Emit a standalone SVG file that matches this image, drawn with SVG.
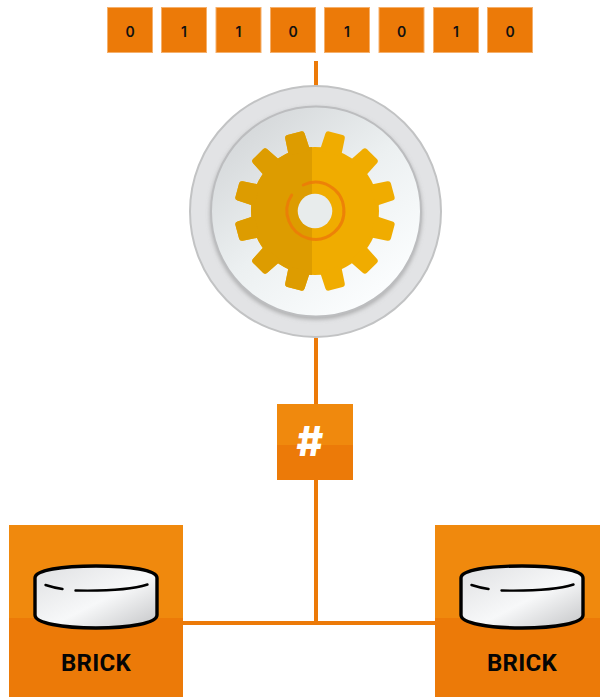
<svg xmlns="http://www.w3.org/2000/svg" width="600" height="697" viewBox="0 0 600 697">
<style>
.bit{fill:#ec7a08;stroke:#f5b06c;stroke-width:1}
.bt{font-family:"Inter","Liberation Sans",sans-serif;font-weight:600;font-size:14px;fill:#111;text-anchor:middle}
.lbl{font-family:"Roboto","Liberation Sans",sans-serif;font-weight:700;font-size:24px;letter-spacing:0.3px;fill:#050505;text-anchor:middle}
.wire{stroke:#ec7a08;stroke-width:4;fill:none}
.cyl{fill:url(#metal);stroke:#000;stroke-width:3.4;stroke-linejoin:round}
.rim{fill:none;stroke:#000;stroke-width:2.4;stroke-linecap:round}
</style>
<defs>
<linearGradient id="face" x1="0.15" y1="0.1" x2="0.8" y2="0.9"><stop offset="0" stop-color="#d5d8da"/><stop offset="0.5" stop-color="#ecf0f1"/><stop offset="1" stop-color="#fbfdfe"/></linearGradient>
<linearGradient id="metal" x1="0" y1="0" x2="1" y2="1"><stop offset="0" stop-color="#dfe0e2"/><stop offset="0.55" stop-color="#f7f8f9"/><stop offset="1" stop-color="#c4c5c7"/></linearGradient>
<clipPath id="leftHalf"><rect x="220" y="110" width="92" height="205"/></clipPath>
<path id="tooth" d="M-11-60 L-10-77.500 Q-9.800-80.500-7-80.500 L7-80.500 Q9.800-80.500 10-77.500 L11-60Z"/>
<g id="gearShape">
<circle cx="315" cy="211" r="64"/>
<use href="#tooth" transform="translate(315 211) rotate(15)"/><use href="#tooth" transform="translate(315 211) rotate(45)"/><use href="#tooth" transform="translate(315 211) rotate(75)"/><use href="#tooth" transform="translate(315 211) rotate(105)"/><use href="#tooth" transform="translate(315 211) rotate(135)"/><use href="#tooth" transform="translate(315 211) rotate(165)"/><use href="#tooth" transform="translate(315 211) rotate(195)"/><use href="#tooth" transform="translate(315 211) rotate(225)"/><use href="#tooth" transform="translate(315 211) rotate(255)"/><use href="#tooth" transform="translate(315 211) rotate(285)"/><use href="#tooth" transform="translate(315 211) rotate(315)"/><use href="#tooth" transform="translate(315 211) rotate(345)"/>
</g>
<filter id="sh" x="-10%" y="-10%" width="120%" height="125%"><feDropShadow dx="0" dy="2" stdDeviation="2" flood-color="#888" flood-opacity="0.6"/></filter>
</defs>
<g id="connectors">
<path class="wire" d="M316 61V86"/>
<path class="wire" d="M316 338V623"/>
<path class="wire" d="M183 623H435"/>
</g>
<g id="bits">
<g><rect class="bit" x="107.500" y="7.500" width="45" height="45"/><text class="bt" x="130" y="36.500">0</text></g>
<g><rect class="bit" x="161.500" y="7.500" width="45" height="45"/><text class="bt" x="184" y="36.500">1</text></g>
<g><rect class="bit" x="216" y="7.500" width="45" height="45"/><text class="bt" x="238.500" y="36.500">1</text></g>
<g><rect class="bit" x="270.500" y="7.500" width="45" height="45"/><text class="bt" x="293" y="36.500">0</text></g>
<g><rect class="bit" x="324.500" y="7.500" width="45" height="45"/><text class="bt" x="347" y="36.500">1</text></g>
<g><rect class="bit" x="379" y="7.500" width="45" height="45"/><text class="bt" x="401.500" y="36.500">0</text></g>
<g><rect class="bit" x="433.500" y="7.500" width="45" height="45"/><text class="bt" x="456" y="36.500">1</text></g>
<g><rect class="bit" x="487.500" y="7.500" width="45" height="45"/><text class="bt" x="510" y="36.500">0</text></g>
</g>
<g id="processor">
<circle cx="315.500" cy="211.500" r="125.500" fill="#e2e3e5" stroke="#c2c3c4" stroke-width="2"/>
<circle cx="316" cy="211.500" r="105" fill="url(#face)" stroke="#bcbdbf" stroke-width="2" filter="url(#sh)"/>
<use href="#gearShape" fill="#f0ac00"/>
<g clip-path="url(#leftHalf)"><use href="#gearShape" fill="#dd9c00"/></g>
<circle cx="315" cy="211" r="17.300" fill="#e8ecec"/>
<path d="M303.300 185A28.500 28.500 0 1 1 291.700 195" fill="none" stroke="#ec7a08" stroke-width="3" stroke-linecap="round" opacity="0.85"/>
</g>
<g id="hash">
<rect x="277" y="404" width="76" height="41" fill="#f0890d"/>
<rect x="277" y="445" width="76" height="35" fill="#ec7a08"/>
<text x="310" y="456" font-family="'Inter','Liberation Sans',sans-serif" font-weight="800" font-size="41px" fill="#fff" text-anchor="middle">#</text>
</g>
<g id="brick-left">
<rect x="9" y="525" width="174" height="93" fill="#f0890d"/>
<rect x="9" y="618" width="174" height="79" fill="#ec7a08"/>
<path class="cyl" d="M35 578C35 570 62 566 96 566C130 566 157 570 157 578V615C157 623 130 628 96 628C62 628 35 623 35 615Z"/>
<path class="rim" d="M45.500 585Q53 587.500 62.500 589M75.500 590.500C100 591 130 590 147.500 584.500"/>
<text class="lbl" x="96" y="671">BRICK</text>
</g>
<g id="brick-right">
<rect x="435" y="525" width="165" height="93" fill="#f0890d"/>
<rect x="435" y="618" width="165" height="79" fill="#ec7a08"/>
<path class="cyl" d="M461 578C461 570 488 566 522 566C556 566 583 570 583 578V615C583 623 556 628 522 628C488 628 461 623 461 615Z"/>
<path class="rim" d="M471.500 585Q479 587.500 488.500 589M501.500 590.500C526 591 556 590 573.500 584.500"/>
<text class="lbl" x="522" y="671">BRICK</text>
</g>
</svg>
